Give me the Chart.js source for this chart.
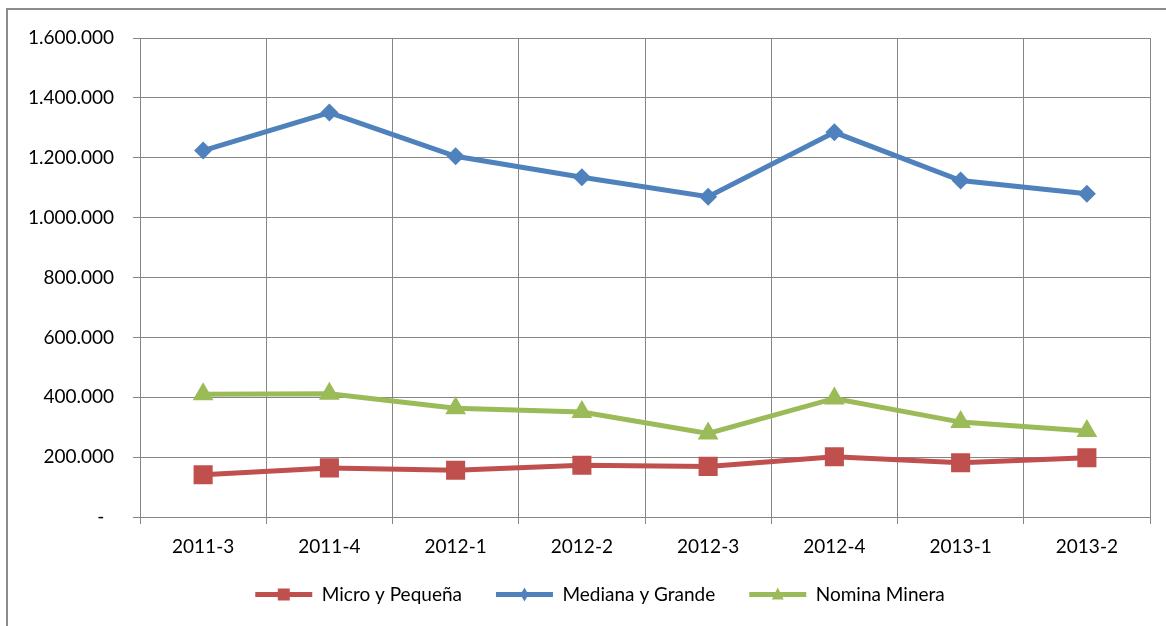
<!DOCTYPE html>
<html>
<head>
<meta charset="utf-8">
<title>Nomina minera</title>
<script src="https://cdn.jsdelivr.net/npm/chart.js@4.4.1/dist/chart.umd.min.js"></script>
<style>
    html, body { margin: 0; padding: 0; background: #fff; overflow: hidden; }
    #wrap { position: relative; width: 1166px; height: 626px; overflow: hidden; }
    #frame {
        position: absolute; left: 6px; top: 8px; width: 2000px; height: 2000px;
        border-left: 2px solid #8c8c8c; border-top: 2px solid #8c8c8c;
    }
    #chart { position: absolute; left: 0; top: 0; }
</style>
</head>
<body>
<div id="wrap">
    <div id="frame"></div>
    <canvas id="chart" width="1166" height="626"></canvas>
</div>
<script>
// ============================================
// DATA
// ============================================
const periodos = ['2011-3', '2011-4', '2012-1', '2012-2', '2012-3', '2012-4', '2013-1', '2013-2'];

const microPequena = [141000, 164000, 156000, 173000, 169000, 201000, 181000, 198000];
const medianaGrande = [1224000, 1351000, 1205000, 1135000, 1070000, 1285000, 1124000, 1080000];
const nominaMinera = [410000, 412000, 363000, 351000, 279000, 396000, 317000, 287000];

const yTicks = [0, 200000, 400000, 600000, 800000, 1000000, 1200000, 1400000, 1600000];

// Colors
const RED = '#C0504D';
const BLUE = '#4F81BD';
const GREEN = '#9BBB59';
const GRID = '#868686';

// Format 1600000 -> 1.600.000, zero -> "-"
function formatMiles(value) {
    if (value === 0) return '-  ';
    return String(value).replace(/\B(?=(\d{3})+(?!\d))/g, '.');
}

// Draw a marker shape (legend overlay)
function drawMarker(ctx, style, x, y, size, color) {
    ctx.save();
    ctx.fillStyle = color;
    ctx.beginPath();
    if (style === 'rect') {
        ctx.rect(x - size / 2, y - size / 2, size, size);
    } else if (style === 'rectRot') {
        ctx.moveTo(x, y - size / 2 - 1);
        ctx.lineTo(x + size / 2 - 2, y);
        ctx.lineTo(x, y + size / 2 + 1);
        ctx.lineTo(x - size / 2 + 2, y);
    } else {
        ctx.moveTo(x, y - size / 2 - 1);
        ctx.lineTo(x + size / 2, y + size / 2 - 1);
        ctx.lineTo(x - size / 2, y + size / 2 - 1);
    }
    ctx.closePath();
    ctx.fill();
    ctx.restore();
}

// Legend: nudge its box (right and up), then draw markers on the legend line
const legendMarkers = {
    id: 'legendMarkers',
    afterLayout(chart) {
        const legend = chart.legend;
        if (!legend) return;
        legend.left += 25;
        legend.right += 25;
        legend.top -= 12;
        legend.bottom -= 12;
    },
    afterDraw(chart) {
        const legend = chart.legend;
        if (!legend || !legend.legendHitBoxes) return;
        legend.legendHitBoxes.forEach((box, i) => {
            const ds = chart.data.datasets[i];
            const cx = box.left + 57 / 2;
            const cy = box.top + box.height / 2;
            drawMarker(chart.ctx, ds.pointStyle, cx, cy, ds.legendMarker, ds.borderColor);
        });
    }
};

Chart.defaults.font.family = 'Lato, "Liberation Sans", sans-serif';
Chart.defaults.font.size = 19;
Chart.defaults.color = '#000';

const ctx = document.getElementById('chart');

new Chart(ctx, {
    type: 'line',
    data: {
        labels: periodos,
        datasets: [{
            label: 'Micro y Pequeña',
            data: microPequena,
            borderColor: RED,
            backgroundColor: RED,
            borderWidth: 5,
            pointStyle: 'rect',
            pointRadius: 13.5,
            pointBorderWidth: 0,
            legendMarker: 12
        }, {
            label: 'Mediana y Grande',
            data: medianaGrande,
            borderColor: BLUE,
            backgroundColor: BLUE,
            borderWidth: 5,
            pointStyle: 'rectRot',
            pointRadius: 9,
            pointBorderWidth: 0,
            legendMarker: 12
        }, {
            label: 'Nomina Minera',
            data: nominaMinera,
            borderColor: GREEN,
            backgroundColor: GREEN,
            borderWidth: 5,
            pointStyle: 'triangle',
            pointRadius: 12,
            pointBorderWidth: 0,
            legendMarker: 12
        }]
    },
    options: {
        responsive: false,
        animation: false,
        devicePixelRatio: 1,
        layout: {
            padding: { left: 0, top: 38, right: 16, bottom: 0 }
        },
        elements: {
            line: { tension: 0 }
        },
        plugins: {
            tooltip: { enabled: false },
            legend: {
                position: 'bottom',
                labels: {
                    boxWidth: 57,
                    boxHeight: 5,
                    padding: 34,
                    generateLabels: function(chart) {
                        return Chart.defaults.plugins.legend.labels.generateLabels(chart).map(item => {
                            item.lineWidth = 0;
                            return item;
                        });
                    }
                }
            }
        },
        scales: {
            x: {
                offset: true,
                grid: {
                    offset: true,
                    color: GRID,
                    lineWidth: 1,
                    tickLength: 7
                },
                border: { color: GRID, width: 1 },
                ticks: { padding: 11, maxRotation: 0 },
                afterFit: function(scale) { scale.height = 46; }
            },
            y: {
                min: 0,
                max: 1600000,
                afterBuildTicks: function(scale) {
                    scale.ticks = yTicks.map(v => ({ value: v }));
                },
                grid: {
                    color: GRID,
                    lineWidth: 1,
                    tickLength: 7
                },
                border: { color: GRID, width: 1 },
                ticks: {
                    padding: 19,
                    callback: function(value) { return formatMiles(value); }
                },
                afterFit: function(scale) { scale.width = 140; }
            }
        }
    },
    plugins: [legendMarkers]
});
</script>
</body>
</html>
